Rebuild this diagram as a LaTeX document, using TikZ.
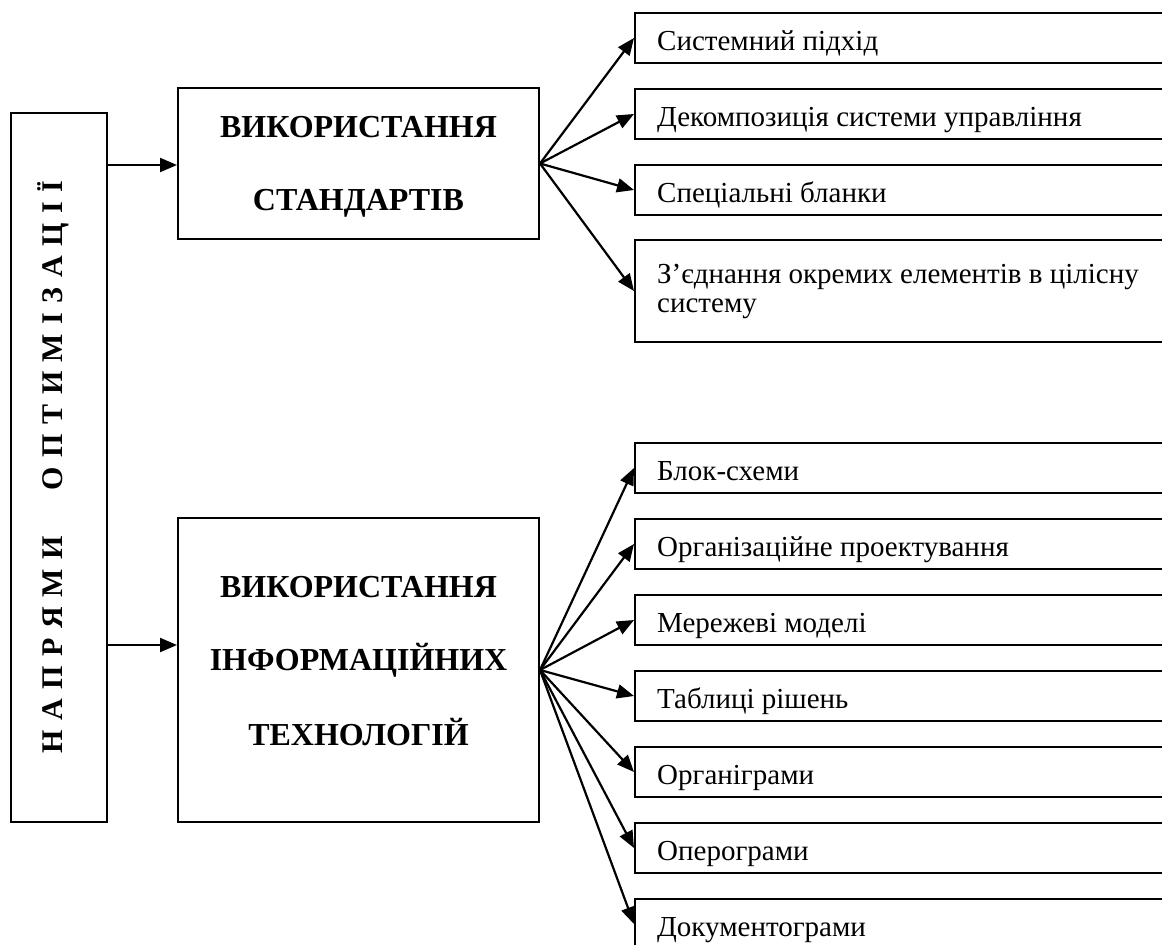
\documentclass[tikz,border=0pt]{standalone}
\usepackage{fontspec}
\setmainfont{Liberation Serif}
\usetikzlibrary{arrows.meta}
\newcommand{\lsp}{\hspace{9.5pt}}
\tikzset{
  box/.style={draw, line width=2pt, inner sep=0pt},
  item/.style={box, anchor=north west, minimum width=546pt, minimum height=50pt},
  txt/.style={inner sep=0pt, anchor=base west, font=\fontsize{29}{32}\selectfont},
  btxt/.style={inner sep=0pt, anchor=base, font=\fontsize{32}{36}\selectfont\bfseries},
  arr/.style={line width=2.2pt, -{Triangle[length=17pt,width=14pt]}}
}
\begin{document}
\begin{tikzpicture}[x=1pt,y=-1pt]
\useasboundingbox (0,0) rectangle (1162,945);
\clip (0,0) rectangle (1162,945);

% left vertical box
\node[box, minimum width=96pt, minimum height=709pt] (L) at (59,467.5) {};
\node[inner sep=0pt, rotate=90, anchor=base, font=\fontsize{30}{30}\selectfont\bfseries] (vt) at (62,467)
  {Н\lsp А\lsp П\lsp Р\lsp Я\lsp М\lsp И\hspace{46pt}О\lsp П\lsp Т\lsp И\lsp М\lsp І\lsp З\lsp А\lsp Ц\lsp І\lsp Ї};

% middle boxes
\node[box, minimum width=361pt, minimum height=151pt] (B1) at (358.5,163.5) {};
\node[btxt] (b1a) at (358.5,137) {ВИКОРИСТАННЯ};
\node[btxt] (b1b) at (358.5,210) {СТАНДАРТІВ};

\node[box, minimum width=361pt, minimum height=304pt] (B2) at (358.5,670) {};
\node[btxt] (b2a) at (358.5,597) {ВИКОРИСТАННЯ};
\node[btxt] (b2b) at (358.5,670) {ІНФОРМАЦІЙНИХ};
\node[btxt] (b2c) at (358.5,745) {ТЕХНОЛОГІЙ};

% right boxes, upper group
\node[item] (R1) at (634,12) {};
\node[item] (R2) at (634,88) {};
\node[item] (R3) at (634,164) {};
\node[item, minimum height=102pt] (R4) at (634,239) {};
\node[txt] (r1) at (657,50) {Системний підхід};
\node[txt] (r2) at (657,126) {Декомпозиція системи управління};
\node[txt] (r3) at (657,202) {Спеціальні бланки};
\node[txt] (r4a) at (657,283) {З’єднання окремих елементів в цілісну};
\node[txt] (r4b) at (657,312) {систему};

% right boxes, lower group
\node[item] (S1) at (634,442) {};
\node[item] (S2) at (634,518) {};
\node[item] (S3) at (634,594) {};
\node[item] (S4) at (634,670) {};
\node[item] (S5) at (634,746) {};
\node[item] (S6) at (634,822) {};
\node[item] (S7) at (634,898) {};
\node[txt] (s1) at (657,480) {Блок-схеми};
\node[txt] (s2) at (657,556) {Організаційне проектування};
\node[txt] (s3) at (657,632) {Мережеві моделі};
\node[txt] (s4) at (657,708) {Таблиці рішень};
\node[txt] (s5) at (657,784) {Органіграми};
\node[txt] (s6) at (657,860) {Оперограми};
\node[txt] (s7) at (657,936) {Документограми};

% connectors from the left box
\coordinate (a1) at ([yshift=-1.5pt]B1.west);
\coordinate (a2) at ([yshift=25pt]B2.west);
\draw[arr] (L.east |- a1) -- (a1);
\draw[arr] (L.east |- a2) -- (a2);

% fans
\coordinate (f1) at (B1.east);
\coordinate (f2) at (B2.east);
\foreach \t in {R1,R2,R3,R4} \draw[arr] (f1) -- (\t.west);
\foreach \t in {S1,S2,S3,S4,S5,S6,S7} \draw[arr] (f2) -- (\t.west);
\end{tikzpicture}
\end{document}
